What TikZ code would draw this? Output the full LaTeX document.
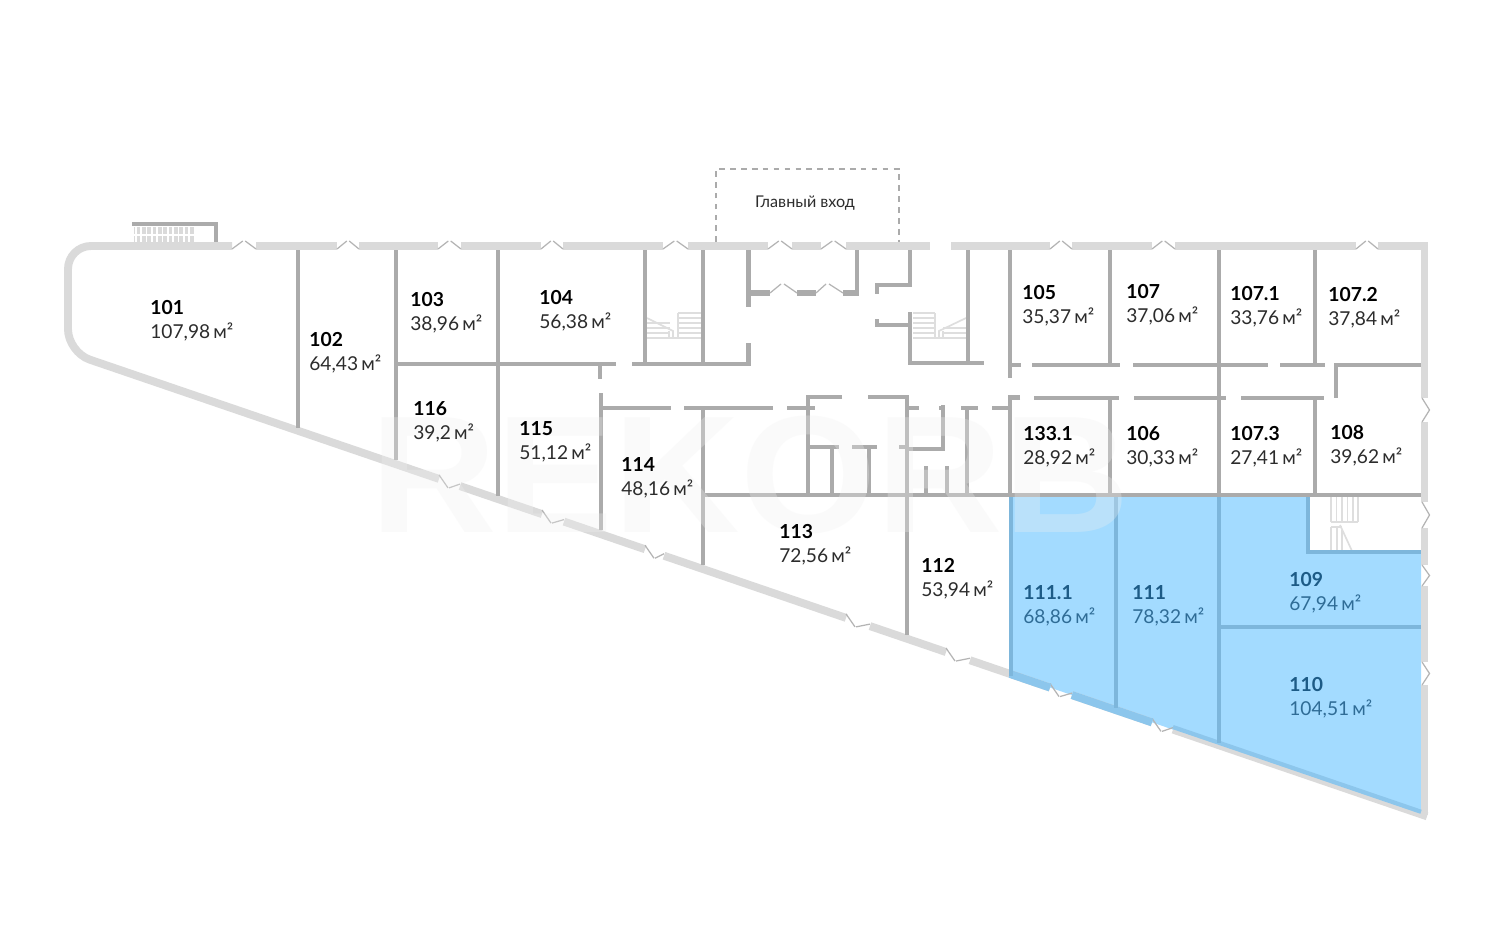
\documentclass[tikz,border=0pt]{standalone}
\usepackage{fontspec}
\setmainfont{Lato}
\newfontfamily\wmfont{Liberation Sans}
\definecolor{outerc}{HTML}{DADADA}
\definecolor{innerc}{HTML}{ABABAB}
\definecolor{doorc}{HTML}{B4B4B4}
\definecolor{stairc}{HTML}{DEDEDE}
\definecolor{bluefill}{HTML}{A3DBFF}
\definecolor{bluewall}{HTML}{7DB6DB}
\definecolor{blueout}{HTML}{8CC6EC}
\definecolor{bluenum}{HTML}{1D5B86}
\definecolor{bluearea}{HTML}{2F6C96}
\definecolor{darktext}{HTML}{2C2C2C}
\definecolor{wmc}{HTML}{F0F0F0}
\tikzset{
  outer/.style={draw=outerc,line width=4.5pt},
  inner/.style={draw=innerc,line width=2.5pt},
  bwall/.style={draw=bluewall,line width=2.7pt},
  door/.style={draw=doorc,line width=0.7pt},
  stair/.style={draw=stairc,line width=0.95pt},
  num/.style={anchor=base west,inner sep=0pt,font=\fontsize{11}{12}\selectfont\bfseries,text=black},
  area/.style={anchor=base west,inner sep=0pt,font=\fontsize{10.9}{12}\selectfont,text=darktext},
  bnum/.style={num,text=bluenum},
  barea/.style={area,text=bluearea},
}
\begin{document}
\begin{tikzpicture}[x=0.02cm,y=-0.02cm]
\useasboundingbox (0,0) rectangle (1500,950);
\fill[white] (0,0) rectangle (1500,950);
% blue units
\pgfmathsetmacro\ya{358+0.3415*(1010-85)}
\pgfmathsetmacro\yb{358+0.3415*(1421-85)}
\fill[bluefill] (1010,497) -- (1308,497) -- (1308,552) -- (1421,552) -- (1421,\yb) -- (1010,\ya) -- cycle;
% balcony
\fill[outerc] (134,227) rectangle (194,243);
\foreach \x in {136,141.3,...,194}{\draw[white,line width=1pt] (\x,227) -- (\x,243);}
\draw[white,line width=.7pt] (134,235) -- (194,235);
\draw[inner] (132,224) -- (216,224) -- (216,243);
% stairs
\foreach \y in {313,318,323,328,333}{\draw[stair] (678,\y) -- (701,\y);}
\draw[stair] (678,313) -- (678,338);
\foreach \y in {323,328,333}{\draw[stair] (647,\y) -- (670,\y);}
\draw[stair] (647,318) -- (673,331) -- (673,338);
\draw[stair] (669,331) -- (669,338);
\draw[stair] (647,338) -- (701,338);
\foreach \y in {313,318,323,328,333}{\draw[stair] (913,\y) -- (935,\y);}
\draw[stair] (935,313) -- (935,338);
\foreach \y in {328,333}{\draw[stair] (943,\y) -- (966,\y);}
\draw[stair] (966,318) -- (939,331) -- (939,338);
\draw[stair] (943,331) -- (943,338);
\draw[stair] (913,338) -- (966,338);
\foreach \x in {1331,1336.5,1342,1347.5,1353,1358}{\draw[stair] (\x,497) -- (\x,522);}
\draw[stair] (1331,522) -- (1358,522);
\draw[stair] (1331,527) -- (1342,527);
\foreach \x in {1331,1337}{\draw[stair] (\x,527) -- (\x,551);}
\draw[stair] (1340,525) -- (1352,551);
\draw[stair] (1342,530) -- (1342,551);
% main entrance
\draw[draw=innerc,line width=1.4pt,dash pattern=on 3.2pt off 3pt] (716,242) -- (716,169) -- (899,169) -- (899,242);
\node[inner sep=0pt,anchor=base,font=\fontsize{9.2}{10}\selectfont,text=darktext] (entrance) at (805,207) {Главный вход};
% outer wall: top
\draw[outer,rounded corners=0.46cm] (232,246) -- (68,246) -- (68,352.2) -- (439,{358+0.3415*(439-85)});
\foreach \a/\b in {256/337,359/438,461/541,563/663,688/768,792/821,846/930,951/1050,1072/1152,1175/1356,1378/1428}{
  \draw[outer] (\a,246) -- (\b,246);
}
\foreach \a/\b in {232/256,337/359,438/461,541/563,663/688,768/792,821/846,1050/1072,1152/1175,1356/1378}{
  \pgfmathsetmacro\ml{\a+0.5*(\b-\a)-1.2}
  \pgfmathsetmacro\mr{\a+0.5*(\b-\a)+1.2}
  \draw[door] (\a,249) -- (\ml,241);
  \draw[door] (\mr,241) -- (\b,249);
}
% outer wall: right
\foreach \a/\b in {242.5/398,422/502,528/565,586/662,685/815}{
  \draw[outer,line width=3.9pt] (1424.5,\a) -- (1424.5,\b);
}
\foreach \a/\b in {398/422,502/528,565/586,662/685}{
  \pgfmathsetmacro\m{0.5*(\a+\b)}
  \draw[door] (1422,\a) -- (1429.5,\m) -- (1422,\b);
}
% outer wall: diagonal
\foreach \a/\b in {460/542,564/645,664/846,870/946,970/1050,1072/1152,1173/1427}{
  \pgfmathsetmacro\yy{358+0.3415*(\a-85)}
  \pgfmathsetmacro\yz{358+0.3415*(\b-85)}
  \draw[outer] (\a,\yy) -- (\b,\yz);
}
\foreach \a/\b in {439/460,542/564,645/664,846/870,946/970,1050/1072,1152/1173}{
  \pgfmathsetmacro\yy{358+0.3415*(\a-85)}
  \pgfmathsetmacro\yz{358+0.3415*(\b-85)}
  \pgfmathsetmacro\ys{\yy-4}
  \pgfmathsetmacro\ye{\yy+9}
  \pgfmathsetmacro\yt{\yz-2}
  \pgfmathsetmacro\xm{\a+9}
  \pgfmathsetmacro\xn{\a+10}
  \draw[door] (\a,\ys) -- (\xm,\ye);
  \draw[door] (\xn,\ye) -- (\b,\yt);
}
% blue parts of the diagonal
\foreach \a/\b in {1010/1050,1072/1152}{
  \pgfmathsetmacro\yy{358+0.3415*(\a-85)}
  \pgfmathsetmacro\yz{358+0.3415*(\b-85)}
  \draw[draw=blueout,line width=4.5pt] (\a,\yy) -- (\b,\yz);
}
\pgfmathsetmacro\yy{358+0.3415*(1173-85)-2.5}
\pgfmathsetmacro\yz{358+0.3415*(1421-85)-2.5}
\draw[draw=blueout,line width=2.4pt] (1173,\yy) -- (1421,\yz);
% inner walls
\draw[inner] (298,250) -- (298,428);
\draw[inner] (396,250) -- (396,460);
\draw[inner] (498,250) -- (498,496);
\draw[inner] (396,364) -- (616,364);
\draw[inner] (600,364) -- (600,379);
\draw[inner] (632,364) -- (750,364);
\draw[inner] (645,250) -- (645,364);
\draw[inner] (703,250) -- (703,364);
\draw[inner] (748.5,250) -- (748.5,307);
\draw[inner] (748.5,343) -- (748.5,366);
\draw[inner,line width=3pt] (748,293) -- (770,293);
\draw[inner,line width=3pt] (797,293) -- (816,293);
\draw[inner,line width=3pt] (843,293) -- (859,293);
\draw[inner] (857,250) -- (857,293);
\draw[door] (770,293) -- (781,284);
\draw[door] (784,284) -- (797,293);
\draw[door] (816,293) -- (826,284);
\draw[door] (829,284) -- (843,293);
\draw[inner] (910,250) -- (910,285) -- (877,285) -- (877,294);
\draw[inner] (877,319) -- (877,325) -- (910,325);
\draw[inner] (910,312) -- (910,363) -- (984,363);
\draw[inner] (968,250) -- (968,363);
\draw[inner] (1010,250) -- (1010,378);
\draw[inner] (1010,365) -- (1021,365);
\draw[inner] (1032,365) -- (1120,365);
\draw[inner] (1133,365) -- (1268,365);
\draw[inner] (1280,365) -- (1325,365);
\draw[inner] (1421,365) -- (1336,365) -- (1336,398);
\draw[inner] (1110,250) -- (1110,365);
\draw[inner] (1219,250) -- (1219,495);
\draw[inner] (1315,250) -- (1315,365);
\draw[inner] (1020,397.5) -- (1010,397.5) -- (1010,495);
\draw[inner] (1034,398) -- (1119,398);
\draw[inner] (1134,398) -- (1226,398);
\draw[inner] (1241,398) -- (1324,398);
\draw[inner] (1110,398) -- (1110,495);
\draw[inner] (1315,398) -- (1315,495);
\draw[inner] (705,495) -- (1421,495);
\draw[inner] (601,393) -- (601,530);
\draw[inner] (601,408) -- (671,408);
\draw[inner] (684,408) -- (773,408);
\draw[inner] (787,408) -- (815,408);
\draw[inner] (703,408) -- (703,565);
\draw[inner] (842,397) -- (808,397) -- (808,495);
\draw[inner] (868,397) -- (907,397) -- (907,635);
\draw[inner] (808,447) -- (839,447);
\draw[inner] (852,447) -- (877,447);
\draw[inner] (832,447) -- (832,495);
\draw[inner] (869,447) -- (869,495);
\draw[inner] (899,447) -- (907,447) -- (907,449) -- (943,449) -- (943,405);
\draw[inner] (907,408) -- (919,408);
\draw[inner] (939,408) -- (945,408);
\draw[inner] (961,408) -- (978,408);
\draw[inner] (967,408) -- (967,495);
\draw[inner] (992,408) -- (1010,408);
\draw[inner] (926,466) -- (926,495);
\draw[inner] (947,466) -- (947,495);
% walls of the blue units
\draw[bwall] (1011,497) -- (1011,676);
\draw[bwall] (1116,497) -- (1116,708);
\draw[bwall] (1219,497) -- (1219,743);
\draw[bwall] (1219,627) -- (1421,627);
\draw[bwall] (1308,497) -- (1308,552) -- (1421,552);
% watermark
\node[inner sep=0pt,anchor=center,opacity=.3,text=wmc,xscale=1.05,font=\fontsize{95}{95}\selectfont\wmfont\bfseries] (wm) at (750,475) {REKORB};
% room labels
\foreach \n/\a/\x/\y [count=\i] in {101/{107,98}/150/314,102/{64,43}/309/346,103/{38,96}/410/306,104/{56,38}/539/304,105/{35,37}/1022/299,107/{37,06}/1126/298,107.1/{33,76}/1230/300,107.2/{37,84}/1328/301,116/{39,2}/413/415,115/{51,12}/519/435,114/{48,16}/621/471,113/{72,56}/779/538,112/{53,94}/921/572,133.1/{28,92}/1023/440,106/{30,33}/1126/440,107.3/{27,41}/1230/440,108/{39,62}/1330/439}{
  \node[num] (n\i) at (\x,\y) {\n};
  \node[area] (a\i) at (\x,\y+24) {\a\,м²};
}
\foreach \n/\a/\x/\y [count=\i] in {111.1/{68,86}/1023/599,111/{78,32}/1132/599,109/{67,94}/1289/586,110/{104,51}/1289/691}{
  \node[bnum] (bn\i) at (\x,\y) {\n};
  \node[barea] (ba\i) at (\x,\y+24) {\a\,м²};
}
\end{tikzpicture}
\end{document}
